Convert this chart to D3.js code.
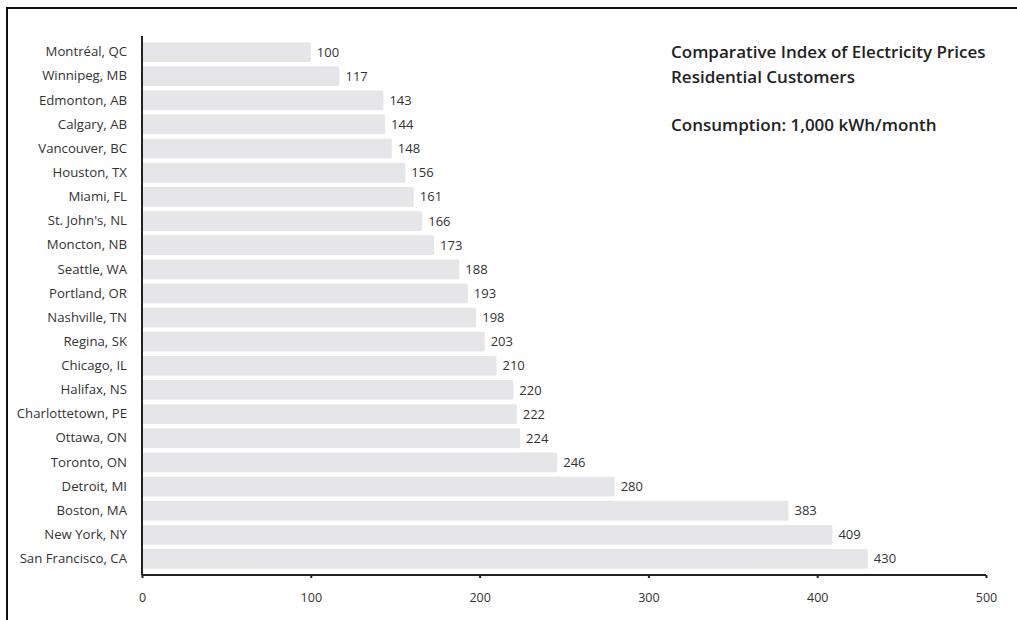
<!DOCTYPE html>
<html>
<head>
<meta charset="utf-8">
<script src="https://cdn.jsdelivr.net/npm/d3@7"></script>
<style>
  html, body { margin: 0; padding: 0; background: #fff; }
  svg { display: block; }
  text { font-family: "Open Sans", "Noto Sans", sans-serif; }
</style>
</head>
<body>
<svg id="chart" width="1017" height="620"></svg>
<script>
// City names, top to bottom
const cities = [
  "Montréal, QC", "Winnipeg, MB", "Edmonton, AB", "Calgary, AB", "Vancouver, BC",
  "Houston, TX", "Miami, FL", "St. John's, NL", "Moncton, NB", "Seattle, WA",
  "Portland, OR", "Nashville, TN", "Regina, SK", "Chicago, IL", "Halifax, NS",
  "Charlottetown, PE", "Ottawa, ON", "Toronto, ON", "Detroit, MI", "Boston, MA",
  "New York, NY", "San Francisco, CA"
];
// Index values (Montréal = 100)
const indexValues = [
  100, 117, 143, 144, 148, 156, 161, 166, 173, 188,
  193, 198, 203, 210, 220, 222, 224, 246, 280, 383,
  409, 430
];
// Horizontal axis ticks
const xTicks = [0, 100, 200, 300, 400, 500];
const titleLines = [
  "Comparative Index of Electricity Prices",
  "Residential Customers"
];
const subtitle = "Consumption: 1,000 kWh/month";

const data = cities.map((c, i) => ({ city: c, value: indexValues[i] }));

const svg = d3.select("#chart");

// outer frame
svg.append("rect")
  .attr("x", 7).attr("y", 8)
  .attr("width", 1030).attr("height", 640)
  .attr("fill", "none")
  .attr("stroke", "#111")
  .attr("stroke-width", 2);

const x0 = 142, x1 = 986;
const yTop = 40, yBottom = 571;

const x = d3.scaleLinear().domain([0, 500]).range([x0, x1]);
const y = d3.scaleBand()
  .domain(cities)
  .range([yTop, yBottom])
  .paddingInner(0.18)
  .paddingOuter(0.09);

// bars
svg.append("g").selectAll("rect")
  .data(data)
  .join("rect")
  .attr("x", x(0))
  .attr("y", d => y(d.city))
  .attr("width", d => x(d.value) - x(0))
  .attr("height", y.bandwidth())
  .attr("rx", 1.5)
  .attr("fill", "#e6e6e8");

// value labels
svg.append("g").selectAll("text")
  .data(data)
  .join("text")
  .attr("x", d => x(d.value) + 6)
  .attr("y", d => y(d.city) + y.bandwidth() / 2)
  .attr("dy", "0.35em")
  .attr("font-size", 13)
  .attr("fill", "#333")
  .text(d => d.value);

// category axis
const yAxis = svg.append("g")
  .attr("transform", `translate(${x0},0)`)
  .call(d3.axisLeft(y).tickSize(0).tickPadding(15));
yAxis.select(".domain").remove();
yAxis.selectAll("text")
  .attr("font-size", 13.2)
  .attr("fill", "#333")
  .style("font-family", "'Open Sans', sans-serif");

svg.append("line")
  .attr("x1", x0).attr("x2", x0)
  .attr("y1", 36).attr("y2", 575)
  .attr("stroke", "#222")
  .attr("stroke-width", 2);

// value axis
const xAxis = svg.append("g")
  .attr("transform", `translate(0,575)`)
  .call(d3.axisBottom(x).tickValues(xTicks).tickSize(3).tickPadding(15).tickFormat(d3.format("d")));
xAxis.select(".domain")
  .attr("stroke", "#222")
  .attr("stroke-width", 2)
  .attr("d", `M${x0},0H${x1}`);
xAxis.selectAll(".tick line").attr("stroke", "#222").attr("stroke-width", 2);
xAxis.selectAll("text")
  .attr("font-size", 12.5)
  .attr("fill", "#333")
  .style("font-family", "'Open Sans', sans-serif");

// title block
const tg = svg.append("g").attr("font-size", 17).attr("font-weight", 600).attr("fill", "#222");
tg.selectAll("text.t")
  .data(titleLines)
  .join("text")
  .attr("class", "t")
  .attr("x", 671)
  .attr("y", (d, i) => 58 + i * 25)
  .text(d => d);
tg.append("text")
  .attr("x", 671)
  .attr("y", 131)
  .text(subtitle);
</script>
</body>
</html>
